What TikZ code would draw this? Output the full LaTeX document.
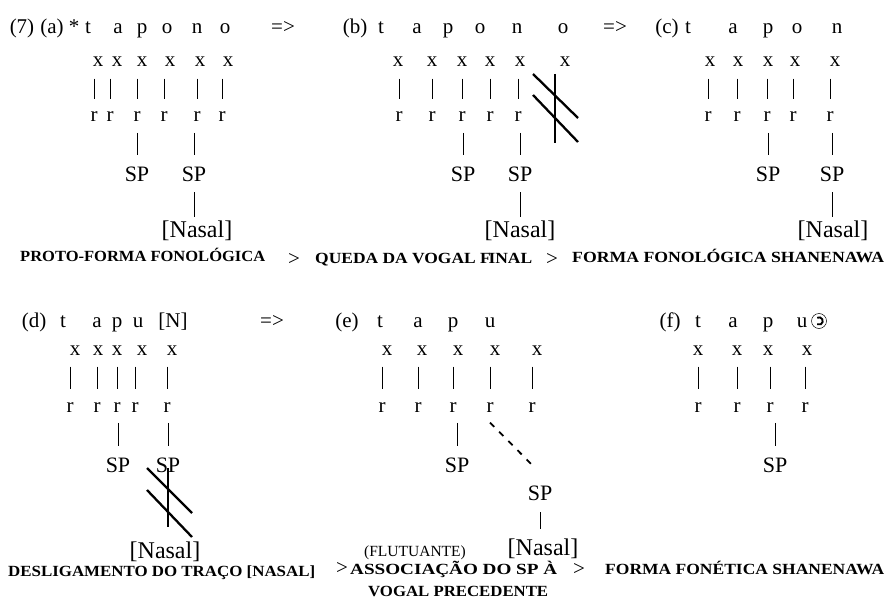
\documentclass[tikz,border=0pt]{standalone}
\usepackage{graphicx}
\usepackage{fontspec}
\setmainfont{Liberation Serif}
\usetikzlibrary{calc}
% bold caption squeezed or stretched to a given width, height kept
\newcommand{\caplabel}[2]{\resizebox{#1}{\height}{\bfseries #2}}

\begin{document}
\begin{tikzpicture}[x=1pt,y=-1pt,
  seg/.style={anchor=base, inner sep=0pt, font=\fontsize{21}{23}\selectfont},
  tier/.style={anchor=base, inner sep=0pt, font=\fontsize{21}{23}\selectfont},
  spnode/.style={anchor=base, inner sep=0pt, font=\fontsize{22}{24}\selectfont},
  feat/.style={anchor=base, inner sep=0pt, font=\fontsize{24}{26}\selectfont},
  caption/.style={anchor=base west, inner sep=0pt, font=\fontsize{15.5}{17}\selectfont},
  small/.style={anchor=base, inner sep=0pt, font=\fontsize{15.5}{17}\selectfont},
  link/.style={line width=0.75pt},
  xr/.style={link, shorten <=16.5pt, shorten >=18.5pt},
  rs/.style={link, shorten <=15.8pt, shorten >=18.7pt},
  sn/.style={link, shorten <=18.3pt, shorten >=13pt},
  cut/.style={line width=2.3pt},
  floating/.style={line width=1.8pt, dash pattern=on 6pt off 7pt},
]
\useasboundingbox (0,0) rectangle (886,607);

% ---------------- (a) proto-form ----------------
\node[seg] (a7) at (22,34) {(7)};
\node[seg] (atag) at (52,34) {(a)};
\node[seg] (aast) at (74,34) {*};
\foreach \c/\x [count=\i] in {t/88,a/118,p/142,o/167,n/197,o/225}
  \node[seg] (as\i) at (\x,34) {\c};
\node[seg] (aimp) at (283,34) {=>};
\foreach \x [count=\i] in {98,117,142,170,200,228}
  \node[tier] (ax\i) at (\x,67) {x};
\foreach \x [count=\i] in {94,110,137,164,197,222}
  \node[tier] (ar\i) at (\x,122) {r};
\node[spnode] (asp1) at (137,181) {SP};
\node[spnode] (asp2) at (194,181) {SP};
\node[feat] (anas) at (197,237) {[Nasal]};
\foreach \i in {1,...,6}
  \draw[xr] (ar\i.center |- ax\i.center) -- (ar\i.center);
\draw[rs] (asp1.center |- ar3.center) -- (asp1.center);
\draw[rs] (asp2.center |- ar5.center) -- (asp2.center);
\draw[sn] (asp2.center) -- (asp2.center |- anas.center);

% ---------------- (b) final vowel deleted ----------------
\node[seg] (btag) at (355,34) {(b)};
\foreach \c/\x [count=\i] in {t/381,a/417,p/448,o/480,n/517,o/563}
  \node[seg] (bs\i) at (\x,34) {\c};
\foreach \x [count=\i] in {398,432,462,490,520,565}
  \node[tier] (bx\i) at (\x,67) {x};
\foreach \x [count=\i] in {399,432,462,490,518}
  \node[tier] (br\i) at (\x,122) {r};
\node[spnode] (bsp1) at (463,181) {SP};
\node[spnode] (bsp2) at (520,181) {SP};
\node[feat] (bnas) at (520,237) {[Nasal]};
\foreach \i in {1,...,5}
  \draw[xr] (br\i.center |- bx\i.center) -- (br\i.center);
\draw[rs] (bsp1.center |- br3.center) -- (bsp1.center);
\draw[rs] (bsp2.center |- br5.center) -- (bsp2.center);
\draw[sn] (bsp2.center) -- (bsp2.center |- bnas.center);
% severed line under the last x
\coordinate (bcutT) at (555,74);
\coordinate (bcutB) at (555,143);
\coordinate (bd1a) at (533,74);  \coordinate (bd1b) at (578,118);
\coordinate (bd2a) at (533,95);  \coordinate (bd2b) at (578,142);
\draw[cut] (bcutT) -- (bcutB);
\draw[cut] (bd1a) -- (bd1b);
\draw[cut] (bd2a) -- (bd2b);

% ---------------- (c) phonological form ----------------
\node[seg] (cimp) at (615,34) {=>};
\node[seg] (ctag) at (667,34) {(c)};
\foreach \c/\x [count=\i] in {t/688,a/733,p/768,o/797,n/837}
  \node[seg] (cs\i) at (\x,34) {\c};
\foreach \x [count=\i] in {710,738,768,795,835}
  \node[tier] (cx\i) at (\x,67) {x};
\foreach \x [count=\i] in {708,737,767,793,830}
  \node[tier] (cr\i) at (\x,122) {r};
\node[spnode] (csp1) at (768,181) {SP};
\node[spnode] (csp2) at (832,181) {SP};
\node[feat] (cnas) at (833,237) {[Nasal]};
\foreach \i in {1,...,5}
  \draw[xr] (cr\i.center |- cx\i.center) -- (cr\i.center);
\draw[rs] (csp1.center |- cr3.center) -- (csp1.center);
\draw[rs] (csp2.center |- cr5.center) -- (csp2.center);
\draw[sn] (csp2.center) -- (csp2.center |- cnas.center);

% captions, first row
\node[caption] (cap1) at (20,261) {\caplabel{245pt}{PROTO-FORMA FONOLÓGICA}};
\node[seg] (g1) at (294,265) {>};
\node[caption] (cap2) at (315,263) {\caplabel{217pt}{QUEDA DA VOGAL F\kern-2pt INAL}};
\node[seg] (g2) at (552,265) {>};
\node[caption] (cap3) at (572,262) {\caplabel{312pt}{FORMA FONOLÓGICA SHANENAWA}};

% ---------------- (d) nasal feature delinked ----------------
\node[seg] (dtag) at (34,327) {(d)};
\foreach \c/\x [count=\i] in {t/63,a/97,p/117,u/138,{[N]}/173}
  \node[seg] (ds\i) at (\x,327) {\c};
\node[seg] (dimp) at (272,327) {=>};
\foreach \x [count=\i] in {75,98,117,142,172}
  \node[tier] (dx\i) at (\x,355) {x};
\foreach \x [count=\i] in {70,97,117,135,167}
  \node[tier] (dr\i) at (\x,412) {r};
\node[spnode] (dsp1) at (118,472) {SP};
\node[spnode] (dsp2) at (168,472) {SP};
\node[feat] (dnas) at (165,558.5) {[Nasal]};
\foreach \i in {1,...,5}
  \draw[xr] (dr\i.center |- dx\i.center) -- (dr\i.center);
\draw[rs] (dsp1.center |- dr3.center) -- (dsp1.center);
\draw[rs] (dsp2.center |- dr5.center) -- (dsp2.center);
\draw[cut, shorten <=3.3pt, shorten >=24.5pt] (dsp2.center) -- (dsp2.center |- dnas.center);
\coordinate (dd1a) at (147,468); \coordinate (dd1b) at (192,513);
\coordinate (dd2a) at (147,490); \coordinate (dd2b) at (192,537);
\draw[cut] (dd1a) -- (dd1b);
\draw[cut] (dd2a) -- (dd2b);

% ---------------- (e) floating SP re-associated ----------------
\node[seg] (etag) at (347,327) {(e)};
\foreach \c/\x [count=\i] in {t/380,a/418,p/453,u/490}
  \node[seg] (es\i) at (\x,327) {\c};
\foreach \x [count=\i] in {387,422,458,495,537}
  \node[tier] (ex\i) at (\x,355) {x};
\foreach \x [count=\i] in {382,418,453,490,532}
  \node[tier] (er\i) at (\x,412) {r};
\node[spnode] (esp1) at (457,472) {SP};
\node[spnode] (esp2) at (540,500) {SP};
\node[feat] (enas) at (543,555.5) {[Nasal]};
\node[small] (eflt) at (415,556) {(FLUTUANTE)};
\foreach \i in {1,...,5}
  \draw[xr] (er\i.center |- ex\i.center) -- (er\i.center);
\draw[rs] (esp1.center |- er3.center) -- (esp1.center);
\draw[floating] ($(er4.center)+(0,15.5)$) -- ($(esp2.center)+(-5,-25)$);
\draw[link, shorten <=19.3pt, shorten >=19.5pt] (esp2.center) -- (esp2.center |- enas.center);

% ---------------- (f) phonetic form ----------------
\node[seg] (ftag) at (670,327) {(f)};
\foreach \c/\x [count=\i] in {t/698,a/733,p/768,u/802}
  \node[seg] (fs\i) at (\x,327) {\c};
\node[circle, draw, line width=0.5pt, minimum size=15pt, inner sep=0pt] (fgl) at (819,321) {};
\draw[line width=1.9pt] ($(fgl.center)+(-1.8,-3.2)$) arc[start angle=120, end angle=-120, radius=3.7pt];
\foreach \x [count=\i] in {698,737,768,807}
  \node[tier] (fx\i) at (\x,355) {x};
\foreach \x [count=\i] in {698,737,770,805}
  \node[tier] (fr\i) at (\x,412) {r};
\node[spnode] (fsp1) at (775,472) {SP};
\foreach \i in {1,...,4}
  \draw[xr] (fr\i.center |- fx\i.center) -- (fr\i.center);
\draw[rs] (fsp1.center |- fr3.center) -- (fsp1.center);

% captions, second row
\node[caption] (cap4) at (8,576) {\caplabel{307pt}{DESLIGAMENTO DO TRAÇO [NASAL]}};
\node[seg] (g3) at (342,574) {>};
\node[caption] (cap5) at (350,574) {\caplabel{207pt}{ASSOCIAÇÃO DO SP À}};
\node[caption] (cap6) at (368,596) {\caplabel{180pt}{VOGAL PRECEDENTE}};
\node[seg] (g4) at (579,575) {>};
\node[caption] (cap7) at (605,574) {\caplabel{279pt}{FORMA FONÉTICA SHANENAWA}};
\end{tikzpicture}
\end{document}
